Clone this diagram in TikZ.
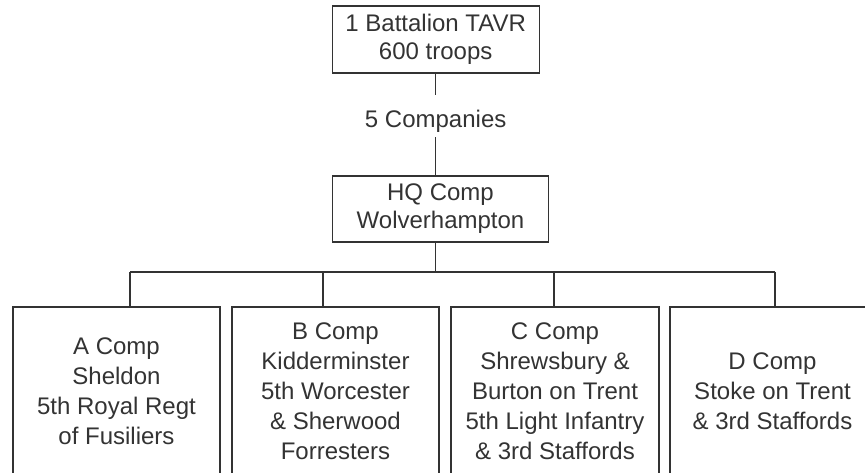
\documentclass[tikz,border=0pt]{standalone}
\usepackage{fontspec}
\setmainfont{Liberation Sans}
\definecolor{ink}{HTML}{333333}
\begin{document}
\begin{tikzpicture}[x=1pt,y=-1pt,
  box/.style={draw=ink,line width=1.2pt,rectangle,inner sep=0pt,align=center,text=ink,
    font=\fontsize{24}{28}\selectfont},
  lowbox/.style={box,minimum width=207pt,minimum height=168pt,font=\fontsize{24}{30}\selectfont},
  link/.style={draw=ink,line width=1.2pt},
  lbl/.style={text=ink,inner xsep=0pt,inner ysep=0pt,font=\fontsize{24}{28}\selectfont,
    text height=33pt,text depth=9pt}]
\useasboundingbox (0,0) rectangle (865,473);
\clip (0,0) rectangle (865,473);
\node[box,minimum width=207pt,minimum height=67pt] (top) at (435.7,39.5) {1 Battalion TAVR\\600 troops};
\node[lbl,anchor=base] (comp) at (435.7,128) {5 Companies};
\node[box,minimum width=216pt,minimum height=66pt] (hq) at (440.5,209) {HQ Comp\\Wolverhampton};
\node[lowbox] (a) at (116.5,391) {A Comp\\Sheldon\\5th Royal Regt\\of Fusiliers};
\node[lowbox] (b) at (335.5,391) {B Comp\\Kidderminster\\5th Worcester\\\& Sherwood\\Forresters};
\node[lowbox,minimum width=208pt] (c) at (555,391) {C Comp\\Shrewsbury \&\\Burton on Trent\\5th Light Infantry\\\& 3rd Staffords};
\node[lowbox,minimum width=205pt] (d) at (772.5,391) {D Comp\\Stoke on Trent\\\& 3rd Staffords};
\coordinate (hub) at (435.7,272);
\coordinate (ja) at (130,272);
\coordinate (jb) at (323,272);
\coordinate (jc) at (554,272);
\coordinate (jd) at (775,272);
\draw[link] (top.south) -- (comp.north);
\draw[link] (comp.south) -- (comp.south |- hq.north);
\draw[link] (hub |- hq.south) -- (hub);
\draw[link] (ja) -- (jd);
\draw[link] (ja) -- (ja |- a.north);
\draw[link] (jb) -- (jb |- b.north);
\draw[link] (jc) -- (jc |- c.north);
\draw[link] (jd) -- (jd |- d.north);
\end{tikzpicture}
\end{document}
